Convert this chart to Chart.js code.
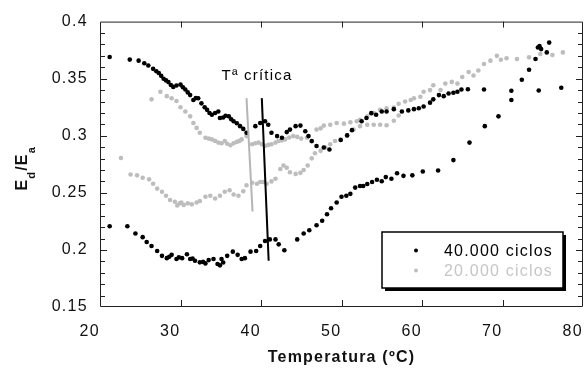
<!DOCTYPE html>
<html>
<head>
<meta charset="utf-8">
<script src="https://cdn.jsdelivr.net/npm/chart.js@4.4.1/dist/chart.umd.min.js"></script>
<style>
  html, body { margin: 0; padding: 0; background: #fff; overflow: hidden; }
  canvas { display: block; }
</style>
</head>
<body>
<canvas id="chart" width="588" height="370"></canvas>
<script>
// ticks
const xTickLabels = ['20', '30', '40', '50', '60', '70', '80'];
const yTickLabels = ['0.15', '0.2', '0.25', '0.3', '0.35', '0.4'];

// 40.000 ciclos, upper branch
const blackUpperX = [21.2, 23.7, 24.8, 25.5, 26.0, 26.6, 27.0, 27.3, 27.6, 27.9, 28.2, 28.5, 28.8, 29.1, 29.5, 30.0, 30.3, 30.6, 30.9, 31.2, 31.6, 31.9, 32.2, 32.6, 33.0, 33.3, 33.6, 33.9, 34.3, 34.7, 34.9, 35.3, 35.6, 36.0, 36.3, 36.6, 37.0, 37.4, 37.8, 38.2, 39.3, 39.9, 40.5, 40.9, 41.3, 42.0, 42.6, 43.2, 43.6, 44.3, 44.9, 45.5, 45.9, 46.3, 46.9, 47.8, 48.5, 49.9, 50.7, 51.3, 52.5, 53.1, 53.7, 54.3, 55.0, 55.6, 56.5, 57.5, 58.3, 59.0, 59.6, 60.2, 61.0, 61.4, 62.1, 62.7, 63.3, 63.9, 64.4, 64.9, 65.7, 67.7, 71.1, 74.5, 77.3];
const blackUpperY = [0.369, 0.3667, 0.3658, 0.3635, 0.3615, 0.3586, 0.3565, 0.355, 0.3525, 0.350, 0.3485, 0.347, 0.3445, 0.3428, 0.344, 0.3448, 0.3425, 0.3405, 0.338, 0.3356, 0.3313, 0.333, 0.3328, 0.3284, 0.325, 0.3227, 0.320, 0.3184, 0.320, 0.3213, 0.3155, 0.316, 0.3175, 0.317, 0.3145, 0.3127, 0.311, 0.3084, 0.306, 0.3026, 0.3084, 0.3112, 0.3127, 0.3097, 0.3026, 0.2997, 0.2983, 0.3032, 0.3054, 0.3084, 0.3089, 0.304, 0.2997, 0.2954, 0.291, 0.2897, 0.288, 0.2963, 0.3003, 0.3049, 0.3127, 0.3155, 0.3198, 0.3184, 0.3213, 0.3213, 0.3233, 0.3213, 0.3222, 0.3233, 0.3241, 0.3256, 0.329, 0.3319, 0.3356, 0.3347, 0.337, 0.3377, 0.3385, 0.3405, 0.3408, 0.3405, 0.3394, 0.3397, 0.342];

// 40.000 ciclos, lower branch
const blackLowerX = [21.2, 23.4, 24.4, 25.3, 25.8, 26.4, 27.1, 27.7, 28.3, 28.6, 28.9, 29.5, 29.8, 30.2, 30.8, 31.2, 31.5, 31.8, 32.4, 32.8, 33.1, 33.5, 34.1, 34.6, 34.9, 35.1, 35.3, 35.8, 36.5, 37.1, 37.6, 38.0, 38.7, 39.4, 39.9, 40.5, 41.1, 41.8, 42.2, 42.9, 44.5, 45.3, 46.0, 46.9, 47.6, 48.2, 48.7, 49.4, 50.0, 50.6, 51.1, 51.7, 52.3, 52.7, 53.2, 53.8, 54.4, 55.0, 55.5, 56.2, 56.9, 57.7, 58.8, 60.1, 62.0, 63.9, 65.9, 67.8, 69.5, 71.1, 72.4, 73.3, 74.1, 74.4, 74.6, 74.8, 75.5, 75.8];
const blackLowerY = [0.2207, 0.2207, 0.2144, 0.2112, 0.2069, 0.2034, 0.1991, 0.1948, 0.1928, 0.194, 0.1957, 0.192, 0.1935, 0.1928, 0.1962, 0.192, 0.1925, 0.1905, 0.1891, 0.1895, 0.1882, 0.1911, 0.192, 0.1877, 0.1865, 0.192, 0.189, 0.1948, 0.1985, 0.1957, 0.192, 0.1928, 0.1985, 0.1991, 0.2034, 0.2078, 0.2092, 0.2092, 0.2049, 0.1997, 0.2092, 0.2144, 0.2172, 0.2216, 0.2256, 0.2313, 0.2365, 0.2416, 0.2466, 0.2474, 0.2491, 0.2546, 0.256, 0.256, 0.2578, 0.2595, 0.2615, 0.2601, 0.2638, 0.2623, 0.2672, 0.2649, 0.2653, 0.2687, 0.2696, 0.2787, 0.294, 0.3084, 0.317, 0.3313, 0.3491, 0.3578, 0.3672, 0.3773, 0.3785, 0.3759, 0.373, 0.3816];

// 20.000 ciclos, upper branch
const grayUpperX = [26.4, 27.5, 28.3, 28.9, 29.5, 30.0, 30.6, 31.2, 31.6, 32.0, 32.4, 33.1, 33.5, 33.9, 34.3, 34.7, 35.1, 35.5, 35.8, 36.2, 36.6, 37.0, 37.3, 37.6, 38.2, 38.9, 39.3, 39.7, 40.1, 40.5, 40.9, 41.3, 41.8, 42.2, 42.6, 43.0, 43.5, 44.0, 44.5, 45.0, 45.7, 46.3, 46.9, 47.4, 47.8, 48.6, 49.4, 50.3, 51.1, 51.9, 52.3, 53.2, 54.0, 54.8, 55.6, 56.5, 57.1, 57.9, 58.6, 59.0, 59.8, 60.2, 61.0, 61.4, 62.3, 62.9, 63.7, 64.4, 65.0, 65.8, 66.4, 67.0, 67.7, 68.5, 69.3, 69.8, 70.5, 71.8, 73.3, 74.7, 76.2, 77.5];
const grayUpperY = [0.3319, 0.3385, 0.3347, 0.3328, 0.3304, 0.325, 0.3213, 0.317, 0.3112, 0.3069, 0.3026, 0.2983, 0.2975, 0.2968, 0.2955, 0.294, 0.2935, 0.2954, 0.293, 0.2917, 0.2935, 0.2946, 0.2955, 0.2968, 0.2997, 0.2925, 0.2935, 0.294, 0.2925, 0.2911, 0.292, 0.2925, 0.294, 0.2954, 0.296, 0.2968, 0.2985, 0.2997, 0.299, 0.2975, 0.2983, 0.295, 0.3054, 0.3065, 0.3089, 0.3097, 0.3112, 0.3106, 0.3118, 0.3127, 0.314, 0.317, 0.3198, 0.3227, 0.324, 0.3247, 0.328, 0.330, 0.3313, 0.3328, 0.3342, 0.3385, 0.340, 0.3442, 0.340, 0.3457, 0.3472, 0.3457, 0.3515, 0.3558, 0.3528, 0.3572, 0.3629, 0.3658, 0.370, 0.3666, 0.3679, 0.3672, 0.3687, 0.3716, 0.3707, 0.373];

// 20.000 ciclos, lower branch
const grayLowerX = [22.6, 23.8, 24.6, 25.3, 26.1, 26.6, 27.1, 27.7, 28.2, 28.7, 29.3, 29.6, 29.9, 30.1, 30.4, 30.9, 31.4, 32.0, 32.4, 33.1, 33.7, 34.3, 34.9, 35.5, 36.1, 36.6, 37.2, 37.8, 38.2, 38.9, 39.5, 39.9, 40.3, 40.7, 41.3, 41.8, 42.4, 42.8, 43.2, 43.6, 44.3, 44.9, 45.3, 45.8, 46.3, 46.7, 47.4, 48.0, 48.6, 49.2, 49.9, 50.7, 51.5, 52.3, 53.2, 54.0, 54.8, 55.6, 56.5, 57.1];
const grayLowerY = [0.2805, 0.2661, 0.2653, 0.2632, 0.2618, 0.258, 0.2537, 0.2509, 0.2474, 0.2437, 0.2422, 0.239, 0.2408, 0.2415, 0.2394, 0.2408, 0.2399, 0.2416, 0.2428, 0.2466, 0.2474, 0.2451, 0.2474, 0.2509, 0.2523, 0.2485, 0.2474, 0.2514, 0.2566, 0.2589, 0.258, 0.2595, 0.2595, 0.258, 0.26, 0.2623, 0.2709, 0.2739, 0.272, 0.2681, 0.2666, 0.2675, 0.27, 0.2739, 0.2802, 0.2847, 0.2868, 0.2897, 0.2925, 0.2954, 0.2968, 0.3003, 0.3054, 0.3084, 0.3097, 0.3097, 0.3097, 0.3092, 0.3132, 0.3178];

// critical temperature markers
const grayMarkX = [38.2, 38.95];
const grayMarkY = [0.333, 0.2336];
const blackMarkX = [40.1, 40.95];
const blackMarkY = [0.333, 0.1905];
const noteText = 'Tª crítica';
const notePos = [39.5, 0.3526];

const seriesLabels = ['40.000 ciclos', '20.000 ciclos'];
const BLACK = '#000000';
const GRAY = '#bdbdbd';
const FONT = 'Arial, "Liberation Sans", sans-serif';

function pts(xs, ys) { return xs.map((x, i) => ({ x: x, y: ys[i] })); }

const blackPts = pts(blackUpperX, blackUpperY).concat(pts(blackLowerX, blackLowerY));
const grayPts = pts(grayUpperX, grayUpperY).concat(pts(grayLowerX, grayLowerY));

// frame, inside ticks, titles, note and legend
const decor = {
    id: 'decor',
    beforeDraw(chart) {
        chart.ctx.letterSpacing = '1.3px';
    },
    beforeDatasetsDraw(chart) {
        const { ctx, chartArea: a, scales: { x, y } } = chart;
        ctx.save();
        ctx.strokeStyle = '#222';
        ctx.lineWidth = 1;
        ctx.beginPath();
        ctx.rect(a.left + 0.5, a.top + 0.5, a.right - a.left - 1, a.bottom - a.top - 1);
        ctx.stroke();
        ctx.beginPath();
        for (let v = 30; v <= 70; v += 10) {
            const px = Math.round(x.getPixelForValue(v)) + 0.5;
            ctx.moveTo(px, a.bottom); ctx.lineTo(px, a.bottom - 7);
            ctx.moveTo(px, a.top); ctx.lineTo(px, a.top + 6);
        }
        for (let k = 16; k < 40; k++) {
            const v = k / 100;
            const py = Math.round(y.getPixelForValue(v)) + 0.5;
            const len = (k % 5 === 0) ? 7 : 5;
            ctx.moveTo(a.left, py); ctx.lineTo(a.left + len, py);
            ctx.moveTo(a.right, py); ctx.lineTo(a.right - len, py);
        }
        ctx.stroke();
        ctx.restore();
    },
    afterDraw(chart) {
        const { ctx, chartArea: a, scales: { x, y } } = chart;
        ctx.save();
        ctx.letterSpacing = '1.2px';
        ctx.fillStyle = '#111';

        // x title
        ctx.font = 'bold 16px ' + FONT;
        ctx.textAlign = 'center';
        ctx.textBaseline = 'middle';
        ctx.fillText('Temperatura (ºC)', (a.left + a.right) / 2, a.bottom + 51);

        // y title E_d/E_a
        const parts = [['E', 16, 0], ['d', 11, 8], ['/E', 16, 0], ['a', 11, 8]];
        ctx.save();
        ctx.translate(26.5, (a.top + a.bottom) / 2 + 4);
        ctx.rotate(-Math.PI / 2);
        ctx.textAlign = 'left';
        ctx.textBaseline = 'alphabetic';
        let w = 0;
        parts.forEach(p => { ctx.font = 'bold ' + p[1] + 'px ' + FONT; w += ctx.measureText(p[0]).width; });
        let cx = -w / 2;
        parts.forEach(p => {
            ctx.font = 'bold ' + p[1] + 'px ' + FONT;
            ctx.fillText(p[0], cx, p[2]);
            cx += ctx.measureText(p[0]).width;
        });
        ctx.restore();

        // note
        ctx.font = '15px ' + FONT;
        ctx.fillStyle = '#000';
        ctx.textAlign = 'center';
        ctx.textBaseline = 'middle';
        ctx.fillText(noteText, x.getPixelForValue(notePos[0]), y.getPixelForValue(notePos[1]));

        // legend
        const L = a.right - 201, T = a.bottom - 75, W = 181, H = 56;
        ctx.fillStyle = '#000';
        ctx.fillRect(L + 3, T + 3, W, H);
        ctx.fillStyle = '#fff';
        ctx.fillRect(L, T, W, H);
        ctx.strokeStyle = '#000';
        ctx.lineWidth = 1.5;
        ctx.strokeRect(L, T, W, H);
        ctx.font = '16px ' + FONT;
        ctx.textAlign = 'left';
        const colors = [BLACK, GRAY];
        seriesLabels.forEach((lab, i) => {
            const cy = T + 19.5 + i * 20;
            ctx.fillStyle = colors[i];
            ctx.beginPath();
            ctx.arc(L + 34, cy - 1, 2, 0, Math.PI * 2);
            ctx.fill();
            ctx.fillStyle = i === 0 ? '#000' : '#c6c6c6';
            ctx.fillText(lab, L + 62, cy);
        });
        ctx.restore();
    }
};

new Chart(document.getElementById('chart'), {
    type: 'scatter',
    data: {
        datasets: [
            { label: 'mark40', type: 'line', data: pts(blackMarkX, blackMarkY), borderColor: BLACK, borderWidth: 2, pointRadius: 0, showLine: true, fill: false },
            { label: 'mark20', type: 'line', data: pts(grayMarkX, grayMarkY), borderColor: '#b5b5b5', borderWidth: 2, pointRadius: 0, showLine: true, fill: false },
            { label: seriesLabels[0], data: blackPts, backgroundColor: BLACK, borderWidth: 0, pointRadius: 2.3 },
            { label: seriesLabels[1], data: grayPts, backgroundColor: GRAY, borderWidth: 0, pointRadius: 2.3 }
        ]
    },
    options: {
        responsive: false,
        devicePixelRatio: 1,
        animation: false,
        events: [],
        layout: { padding: { top: 17, right: 5, left: 0, bottom: 0 } },
        plugins: { legend: { display: false }, tooltip: { enabled: false } },
        scales: {
            x: {
                type: 'linear', min: 20, max: 80,
                grid: { display: false, drawTicks: false },
                border: { display: false },
                ticks: {
                    stepSize: 10, align: 'end', padding: 15, autoSkip: false, maxRotation: 0,
                    color: '#111', font: { family: FONT, size: 16 },
                    callback: v => xTickLabels.find(l => +l === v) ?? ''
                },
                afterFit: s => { s.height = 63; s.paddingLeft = 0; s.paddingRight = 0; }
            },
            y: {
                type: 'linear', min: 0.15, max: 0.4,
                grid: { display: false, drawTicks: false },
                border: { display: false },
                ticks: {
                    stepSize: 0.05, padding: 12, autoSkip: false,
                    color: '#111', font: { family: FONT, size: 16 },
                    callback: v => yTickLabels.find(l => Math.abs(+l - v) < 1e-6) ?? ''
                },
                afterFit: s => { s.width = 100; }
            }
        }
    },
    plugins: [decor]
});
</script>
</body>
</html>
